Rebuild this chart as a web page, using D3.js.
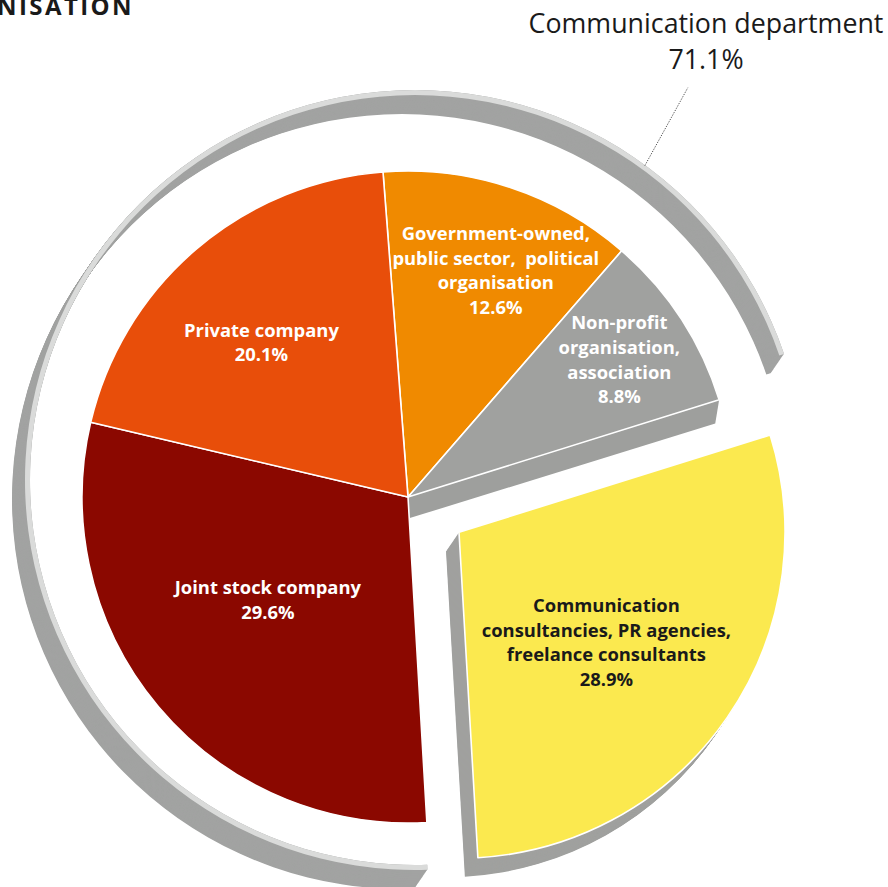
<!DOCTYPE html>
<html>
<head>
<meta charset="utf-8">
<script src="https://cdn.jsdelivr.net/npm/d3@7"></script>
<style>
  html, body { margin: 0; padding: 0; background: #fff; }
  svg { display: block; }
  text { font-family: "Open Sans", "Noto Sans", sans-serif; }
</style>
</head>
<body>
<svg id="chart" width="888" height="887"></svg>
<script>
// ---- data -------------------------------------------------------------
const categories = [
  "Government-owned, public sector, political organisation",
  "Non-profit organisation, association",
  "Communication consultancies, PR agencies, freelance consultants",
  "Joint stock company",
  "Private company"
];
const labelLines = [
  ["Government-owned,", "public sector,  political", "organisation"],
  ["Non-profit", "organisation,", "association"],
  ["Communication", "consultancies, PR agencies,", "freelance consultants"],
  ["Joint stock company"],
  ["Private company"]
];
const shares = [12.6, 8.8, 28.9, 29.6, 20.1];
const sliceColors = ["#F08A00", "#A0A19F", "#FBE94F", "#8B0800", "#E84E0A"];
const labelColors = ["#ffffff", "#ffffff", "#1a1a1a", "#ffffff", "#ffffff"];
// the four organisation types that run their own communication department
const inHouseTypes = [categories[0], categories[1], categories[3], categories[4]];
const inHouseLabel = "Communication department";
const titleText = "TYPE OF ORGANISATION";

// ---- layout -----------------------------------------------------------
const svg = d3.select("#chart");
const deg = Math.PI / 180;
const cx = 408, cy = 497, R = 326;
const startAngle = -4.4 * deg;
const explodeDist = 62;
const depth = [-13, 19];                 // extrusion of the 3-D sides
// label placement per slice: radius and small angular nudge (degrees)
const labelPlace = [
  { r: 243, nudge: 2.9 },
  { r: 252, nudge: 0.2 },
  { r: 184, nudge: 2.1 },
  { r: 174, nudge: 3.7 },
  { r: 213, nudge: -2.9 }
];
const lineH = 24.6;

const polar = (a, r) => [r * Math.sin(a), -r * Math.cos(a)];
const fmt = d3.format(".1f");

const pie = d3.pie().sort(null).value(d => d)
  .startAngle(startAngle).endAngle(startAngle + 2 * Math.PI);
const arcs = pie(shares);
const arcGen = d3.arc().innerRadius(0).outerRadius(R);

const explodeIdx = categories.indexOf("Communication consultancies, PR agencies, freelance consultants");
const ex = arcs[explodeIdx];
const exMid = (ex.startAngle + ex.endAngle) / 2;
const exOff = polar(exMid, explodeDist);

// ---- title (runs off the top-left corner of the page) -----------------
svg.append("text")
  .attr("x", 134).attr("y", 15)
  .attr("text-anchor", "end")
  .attr("font-size", 24).attr("font-weight", 700)
  .attr("letter-spacing", 2.4)
  .attr("fill", "#1a1a1a")
  .text(titleText);

// ---- outer ring around the in-house share -----------------------------
const inHouseTotal = d3.sum(arcs.filter((d, i) => inHouseTypes.includes(categories[i])), d => d.data);
const ringPad = 1.5 * deg;
const ringC = [415, 480];
const ringArc = d3.arc()
  .innerRadius(385).outerRadius(390)
  .startAngle(ex.endAngle + ringPad)
  .endAngle(ex.startAngle + 2 * Math.PI - ringPad);

const ringG = svg.append("g").attr("transform", `translate(${ringC[0]},${ringC[1]})`);
const steps = 30;
d3.range(steps + 1).reverse().forEach(k => {
  const t = k / steps;
  ringG.append("path")
    .attr("d", ringArc())
    .attr("transform", `translate(${depth[0] * t},${depth[1] * t})`)
    .attr("fill", "#A2A3A2");
});
ringG.append("path").attr("d", ringArc()).attr("fill", "#DADBDA");

// leader line to the group label
const leaderAngle = 36 * deg;
const lp0 = polar(leaderAngle, 391);
svg.append("line")
  .attr("x1", ringC[0] + lp0[0]).attr("y1", ringC[1] + lp0[1] + 2)
  .attr("x2", ringC[0] + lp0[0] + 43).attr("y2", ringC[1] + lp0[1] - 76)
  .attr("stroke", "#555").attr("stroke-width", 1)
  .attr("stroke-dasharray", "1.3,1.3");

const groupLbl = svg.append("text")
  .attr("text-anchor", "middle")
  .attr("font-size", 26.8).attr("fill", "#1a1a1a");
groupLbl.append("tspan").attr("x", 706).attr("y", 33).text(inHouseLabel);
groupLbl.append("tspan").attr("x", 706).attr("y", 69).text(fmt(inHouseTotal) + "%");

// ---- pie --------------------------------------------------------------
const pieG = svg.append("g").attr("transform", `translate(${cx},${cy})`);

// cut face left open where the consultancies slice is pulled out
const cutEnd = polar(arcs[explodeIdx - 1].endAngle, R);
pieG.append("path")
  .attr("d", d3.line()([[0, 0], cutEnd, [cutEnd[0] + depth[0] * 0.3, cutEnd[1] + depth[1] * 1.25],
                        [depth[0] * 0.05, depth[1] * 1.15]]) + "Z")
  .attr("fill", "#9E9F9D");

// pulled-out slice with its extruded side
const exG = pieG.append("g").attr("transform", `translate(${exOff[0]},${exOff[1]})`);
d3.range(steps + 1).reverse().forEach(k => {
  const t = k / steps;
  exG.append("path")
    .attr("d", arcGen(ex))
    .attr("transform", `translate(${depth[0] * t},${depth[1] * t})`)
    .attr("fill", "#A0A19F");
});

arcs.forEach((a, i) => {
  const g = i === explodeIdx ? exG : pieG;
  g.append("path")
    .attr("d", arcGen(a))
    .attr("fill", sliceColors[i])
    .attr("stroke", "#fff").attr("stroke-width", 1.6)
    .attr("stroke-linejoin", "round");
});

// ---- slice labels -----------------------------------------------------
arcs.forEach((a, i) => {
  const mid = (a.startAngle + a.endAngle) / 2 + labelPlace[i].nudge * deg;
  let [x, y] = polar(mid, labelPlace[i].r);
  if (i === explodeIdx) { x += exOff[0]; y += exOff[1]; }
  const lines = labelLines[i].concat([fmt(a.data) + "%"]);
  const t = pieG.append("text")
    .attr("text-anchor", "middle")
    .attr("font-size", 18.4).attr("font-weight", 700)
    .attr("fill", labelColors[i])
    .style("white-space", "pre");
  lines.forEach((ln, k) => {
    t.append("tspan")
      .attr("x", x)
      .attr("y", y + (k - (lines.length - 1) / 2) * lineH)
      .attr("dy", "0.35em")
      .text(ln);
  });
});
</script>
</body>
</html>
